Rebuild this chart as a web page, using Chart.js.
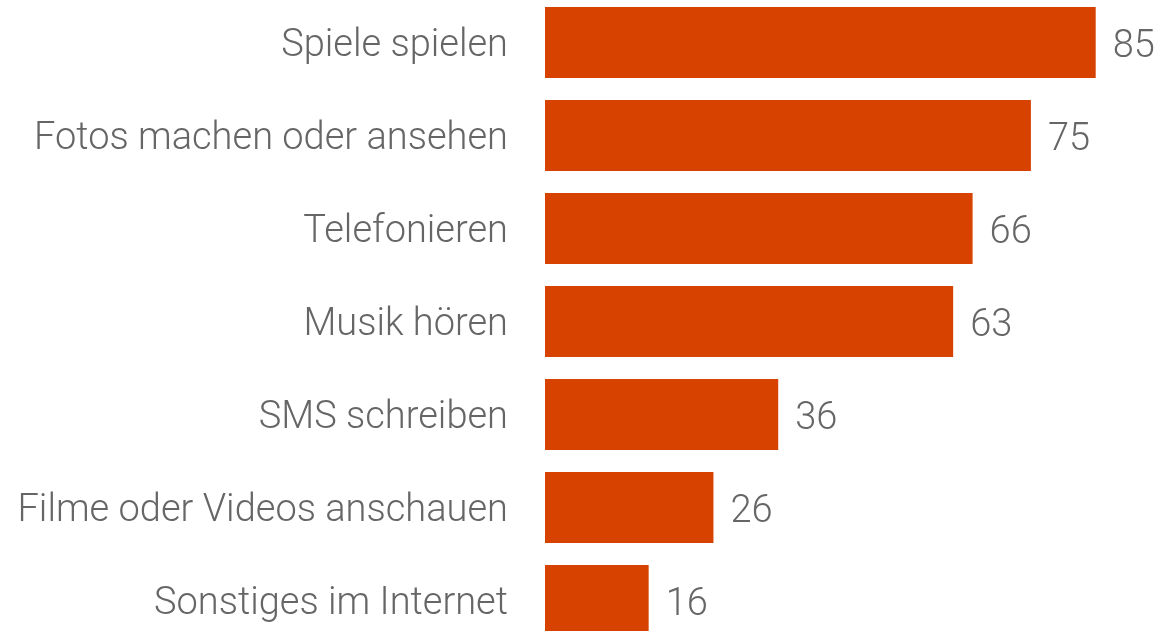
<!DOCTYPE html>
<html>
<head>
<meta charset="utf-8">
<script src="https://cdn.jsdelivr.net/npm/chart.js@4"></script>
<style>
  html, body { margin: 0; padding: 0; background: #fff; overflow: hidden; }
  #wrap { position: absolute; left: 0; top: -4px; width: 1157px; height: 651px; }
</style>
</head>
<body>
<div id="wrap"><canvas id="chart--bar"></canvas></div>
<script>
// categories + values
const labels_bar = [
    'Spiele spielen',
    'Fotos machen oder ansehen',
    'Telefonieren',
    'Musik hören',
    'SMS schreiben',
    'Filme oder Videos anschauen',
    'Sonstiges im Internet'
];
const values_bar = [85, 75, 66, 63, 36, 26, 16];

const barColor = '#d84200';
const textColor = '#666666';
const fontFamily = 'Roboto, "Open Sans", sans-serif';

// numbers right of each bar
const valueLabels = {
    id: 'valueLabels',
    afterDatasetsDraw(chart) {
        const ctx = chart.ctx;
        const meta = chart.getDatasetMeta(0);
        ctx.save();
        ctx.font = '300 38px ' + fontFamily;
        ctx.fillStyle = textColor;
        ctx.textAlign = 'left';
        ctx.textBaseline = 'middle';
        meta.data.forEach((bar, i) => {
            ctx.fillText(String(values_bar[i]), bar.x + 17, bar.y + 5);
        });
        ctx.restore();
    }
};

const data_bar = {
    labels: labels_bar,
    datasets: [{
        data: values_bar,
        backgroundColor: barColor,
        borderWidth: 0,
        categoryPercentage: 1,
        barPercentage: 0.765
    }]
};

const config_bar = {
    type: 'bar',
    data: data_bar,
    options: {
        indexAxis: 'y',
        responsive: true,
        maintainAspectRatio: false,
        animation: false,
        layout: { padding: { top: 0, bottom: 0, left: 0, right: 3 } },
        plugins: {
            legend: { display: false },
            tooltip: { enabled: false }
        },
        scales: {
            x: {
                display: false,
                min: 0,
                max: 94
            },
            y: {
                grid: { display: false, drawTicks: false },
                border: { display: false },
                afterFit(scale) {
                    scale.width = 545;
                    scale.paddingTop = 0;
                    scale.paddingBottom = 0;
                },
                ticks: {
                    padding: 37,
                    labelOffset: 4,
                    color: textColor,
                    font: { family: fontFamily, size: 38, weight: '300' }
                }
            }
        }
    },
    plugins: [valueLabels]
};

var chartbar = new Chart(
    document.getElementById('chart--bar'),
    config_bar
);
</script>
</body>
</html>
